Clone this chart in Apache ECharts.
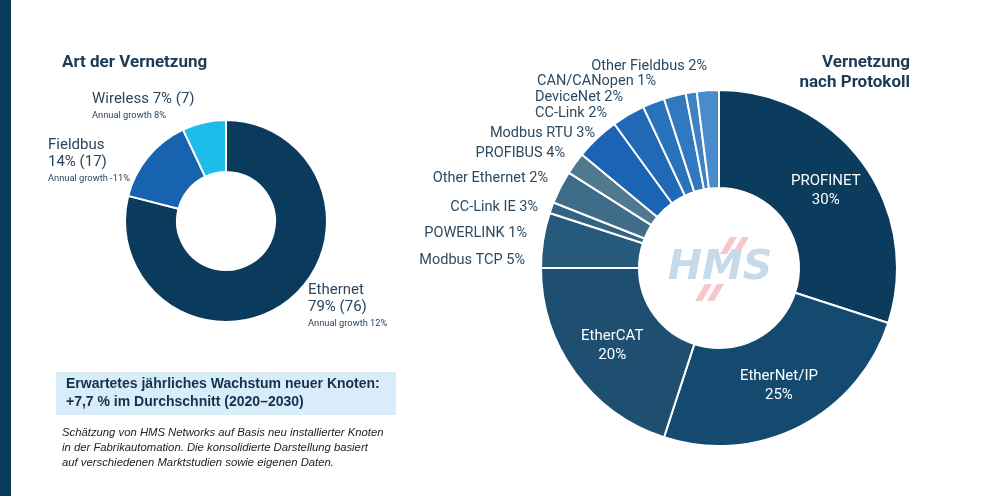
<!DOCTYPE html>
<html><head><meta charset="utf-8">
<script src="https://cdn.jsdelivr.net/npm/echarts@6/dist/echarts.min.js"></script>
<style>html,body{margin:0;padding:0;background:#fff}#c{width:1000px;height:496px}</style>
</head><body><div id="c"></div>
<script>
// ---- data ----
const artNames = ['Ethernet', 'Fieldbus', 'Wireless'];
const artShare = [79, 14, 7];
const artCount = [76, 17, 7];
const artGrowth = ['12%', '-11%', '8%'];

const protoNames = ['PROFINET', 'EtherNet/IP', 'EtherCAT', 'Modbus TCP', 'POWERLINK', 'CC-Link IE',
  'Other Ethernet', 'PROFIBUS', 'Modbus RTU', 'CC-Link', 'DeviceNet', 'CAN/CANopen', 'Other Fieldbus'];
const protoShare = [30, 25, 20, 5, 1, 3, 2, 4, 3, 2, 2, 1, 2];
const protoInside = ['PROFINET', 'EtherNet/IP', 'EtherCAT'];

// ---- styles / layout ----
const artColors = ['#0b3b5c', '#1763b0', '#1cbde8'];
const protoColors = ['#0b3b5d', '#144a70', '#1e4f71', '#275a7a', '#33637f', '#3f6c88', '#50798f',
  '#1b63b5', '#2169b7', '#2a72bc', '#3179bf', '#3e82c4', '#4a8ccb'];
const artLabelPos = [[308, 282], [48, 137], [92, 91]]; // label anchor (top-left) per slice
// outside label anchors (right edge, vertical middle) for the small protocol slices, in slice order
const protoLabelAnchor = [null, null, null, [525, 260], [527, 233], [538, 207], [548, 178],
  [565, 153], [595, 133], [607, 113], [623, 97], [656, 81], [707, 66]];
const FONT = 'Roboto';

const chart = echarts.init(document.getElementById('c'), null, {renderer: 'canvas'});

const artData = artNames.map((n, i) => ({
  name: n, value: artShare[i],
  itemStyle: {color: artColors[i]}
}));
const protoData = protoNames.map((n, i) => {
  const inside = protoInside.includes(n);
  return {
    name: n, value: protoShare[i],
    itemStyle: {color: protoColors[i]},
    label: inside ? {position: 'inside', color: '#ffffff', fontSize: 15, lineHeight: 19,
      formatter: '{b}\n{c}%'} : {}
  };
});

chart.setOption({
  animation: false,
  graphic: [
    {type: 'rect', shape: {x: 0, y: 0, width: 11, height: 496}, style: {fill: '#0a3a5a'}},
    {type: 'rect', shape: {x: 56, y: 372, width: 340, height: 43}, style: {fill: '#d8ecfa'}},
    {type: 'text', style: {x: 66, y: 384, text: 'Erwartetes jährliches Wachstum neuer Knoten:',
      font: 'bold 14px "Liberation Sans", Arial', fill: '#14324d', verticalAlign: 'middle'}},
    {type: 'text', style: {x: 66, y: 402, text: '+7,7 % im Durchschnitt (2020–2030)',
      font: 'bold 14px "Liberation Sans", Arial', fill: '#14324d', verticalAlign: 'middle'}},
    {type: 'text', style: {x: 62, y: 425, text: 'Schätzung von HMS Networks auf Basis neu installierter Knoten\nin der Fabrikautomation. Die konsolidierte Darstellung basiert\nauf verschiedenen Marktstudien sowie eigenen Daten.',
      font: 'italic 11.3px "Liberation Sans", Arial', fill: '#222222', lineHeight: 15}},
    {type: 'text', style: {x: 62, y: 63, text: 'Art der Vernetzung', font: 'bold 17px ' + FONT,
      fill: '#1b3a55', verticalAlign: 'middle'}},
    {type: 'text', style: {x: 910, y: 53, text: 'Vernetzung\nnach Protokoll', font: 'bold 17px ' + FONT,
      fill: '#1b3a55', align: 'right', lineHeight: 20}},
    // HMS watermark
    {type: 'polygon', z: 10, shape: {points: [[720, 254], [727, 254], [737, 237], [730, 237]]}, style: {fill: '#f7c6cb'}},
    {type: 'polygon', z: 10, shape: {points: [[732, 254], [739, 254], [749, 237], [742, 237]]}, style: {fill: '#f7c6cb'}},
    {type: 'polygon', z: 10, shape: {points: [[695, 301], [702, 301], [712, 284], [705, 284]]}, style: {fill: '#f7c6cb'}},
    {type: 'polygon', z: 10, shape: {points: [[707, 301], [714, 301], [724, 284], [717, 284]]}, style: {fill: '#f7c6cb'}},
    {type: 'text', z: 11, style: {x: 720, y: 268, text: 'HMS', font: 'italic 900 41px "DejaVu Sans"',
      fill: '#c6dae9', align: 'center', verticalAlign: 'middle'}}
  ],
  series: [
    {
      type: 'pie', center: [226, 221], radius: [49, 101], startAngle: 90, clockwise: true,
      itemStyle: {borderColor: '#fff', borderWidth: 2},
      label: {
        show: true, position: 'outside', color: '#2a4660', fontFamily: FONT,
        formatter: p => {
          const i = p.dataIndex;
          const head = i === 2 ? `{n|${artNames[i]} ${artShare[i]}% (${artCount[i]})}`
            : `{n|${artNames[i]}}\n{n|${artShare[i]}% (${artCount[i]})}`;
          return head + `\n{g|Annual growth ${artGrowth[i]}}`;
        },
        rich: {
          n: {fontSize: 15, lineHeight: 17, color: '#2a4660', fontFamily: FONT},
          g: {fontSize: 9.3, lineHeight: 15, color: '#2a4660', fontFamily: FONT}
        }
      },
      labelLine: {show: false},
      labelLayout: p => ({x: artLabelPos[p.dataIndex][0], y: artLabelPos[p.dataIndex][1],
        align: 'left', verticalAlign: 'top'}),
      data: artData
    },
    {
      type: 'pie', center: [719, 268], radius: [80, 178], startAngle: 90, clockwise: true,
      itemStyle: {borderColor: '#fff', borderWidth: 2},
      avoidLabelOverlap: false,
      label: {show: true, position: 'outside', color: '#2c4a62', fontSize: 14.5, fontFamily: FONT,
        formatter: '{b} {c}%'},
      labelLine: {show: false, length: 12, length2: 0},
      labelLayout: p => {
        const a = protoLabelAnchor[p.dataIndex];
        return a ? {x: a[0], y: a[1], align: 'right', verticalAlign: 'middle'} : {};
      },
      data: protoData
    }
  ]
});
</script></body></html>
